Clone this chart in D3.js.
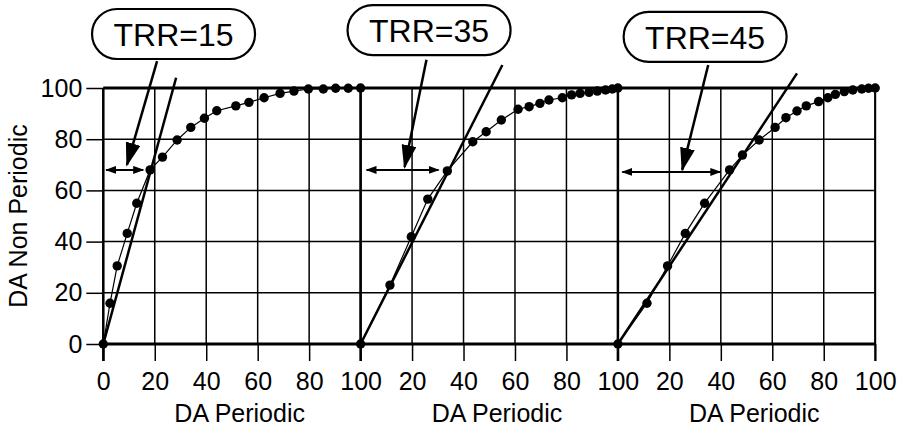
<!DOCTYPE html>
<html>
<head>
<meta charset="utf-8">
<script src="https://cdn.jsdelivr.net/npm/d3@7"></script>
<style>
  body { margin: 0; background: #fff; }
  svg { display: block; background: #fff; }
  text { font-family: "Liberation Sans", Arial, Helvetica, sans-serif; fill: #000; }
</style>
</head>
<body>
<svg id="chart"></svg>
<script>
// panel 1 (TRR=15)
const p1X = [0, 2.6, 5.4, 9.3, 13, 18.2, 23, 28.7, 34, 39.3, 44.1, 51.5, 56.6, 62.5, 68.7, 74.1, 79.7, 85.5, 90.3, 95.2, 100];
const p1Y = [0, 15.9, 30.5, 43.2, 55, 68, 73, 79.7, 84.6, 88.2, 91.1, 93, 94.4, 96.2, 97.9, 98.8, 99.6, 99.6, 99.9, 99.9, 100];
// panel 2 (TRR=35)
const p2X = [0, 11.4, 19.7, 26.1, 33.7, 43.6, 48.8, 54.7, 61.2, 65.5, 69.7, 73.2, 78.4, 82, 85.3, 88.8, 92, 95.2, 97.8, 100];
const p2Y = [0, 23, 41.9, 56.6, 67.6, 79, 82.9, 87.5, 91.7, 92.7, 94, 95.3, 96.2, 97.3, 97.9, 98.3, 98.8, 99.2, 99.6, 100];
// panel 3 (TRR=45)
const p3X = [0, 11.3, 19.3, 26.2, 33.7, 43.4, 48.4, 54.9, 61.1, 65.3, 69.6, 73.2, 78, 81.6, 84.5, 88, 91.3, 94.8, 97.4, 100];
const p3Y = [0, 15.9, 30.5, 43.2, 55, 68, 73.8, 79.7, 84.6, 88.4, 91, 93, 94.7, 96.2, 97.5, 98.6, 99.2, 99.6, 99.9, 100];

const trrLabels = ['TRR=15', 'TRR=35', 'TRR=45'];
// straight line from origin to this end point
const tangentEnd = [[28.3, 104], [55.1, 109], [69.6, 105.7]];
// double arrow: from x, to x, at y
const spanArrow = [[1.1, 15.5, 68], [2.3, 30.3, 68], [1.7, 39.8, 67.2]];
// label box centre and leader arrow (data units)
const boxCentre = [[27.3, 121.1], [26.6, 122.6], [33.9, 120]];
const leaderFrom = [[20.9, 110.5], [25.6, 111], [35.1, 109]];
const leaderTip = [[9.2, 70], [17.1, 69.1], [25, 68]];

const xTicks = [0, 20, 40, 60, 80, 100];
const yTicks = [0, 20, 40, 60, 80, 100];

const panels = [[p1X, p1Y], [p2X, p2Y], [p3X, p3Y]];

const W = 905, H = 429;
const plotLeft = 103.3, panelW = 257.3, plotTop = 88, plotBottom = 344;
const tickLen = 17;

const svg = d3.select('#chart').attr('width', W).attr('height', H);

const defs = svg.append('defs');
defs.append('marker')
    .attr('id', 'small')
    .attr('viewBox', '0 0 11 8')
    .attr('refX', 10).attr('refY', 4)
    .attr('markerWidth', 11).attr('markerHeight', 8)
    .attr('markerUnits', 'userSpaceOnUse')
    .attr('orient', 'auto-start-reverse')
  .append('path').attr('d', 'M0,0L11,4L0,8Z').attr('fill', '#000');
defs.append('marker')
    .attr('id', 'big')
    .attr('viewBox', '0 0 24 15')
    .attr('refX', 22).attr('refY', 7.5)
    .attr('markerWidth', 24).attr('markerHeight', 15)
    .attr('markerUnits', 'userSpaceOnUse')
    .attr('orient', 'auto')
  .append('path').attr('d', 'M0,0L24,7.5L0,15Z').attr('fill', '#000');

const y = d3.scaleLinear().domain([0, 100]).range([plotBottom, plotTop]);

// y axis labels + ticks
const yAxis = d3.axisLeft(y).tickValues(yTicks).tickSize(tickLen).tickPadding(4);
const gy = svg.append('g').attr('transform', 'translate(' + plotLeft + ',0)').call(yAxis);
gy.select('.domain').remove();
gy.selectAll('line').attr('stroke-width', 1.5);
gy.attr('font-size', 25).attr('font-family', null);

svg.append('text')
    .attr('transform', 'translate(27,' + ((plotTop + plotBottom) / 2) + ') rotate(-90)')
    .attr('text-anchor', 'middle')
    .attr('font-size', 25)
    .text('DA Non Periodic');

panels.forEach((p, i) => {
    const x = d3.scaleLinear().domain([0, 100]).range([plotLeft + i * panelW, plotLeft + (i + 1) * panelW]);
    const g = svg.append('g');

    // grid
    g.selectAll('.vgrid').data(xTicks).enter().append('line')
        .attr('x1', d => x(d)).attr('x2', d => x(d))
        .attr('y1', plotTop).attr('y2', plotBottom)
        .attr('stroke', '#000').attr('stroke-width', 1.5);
    g.selectAll('.hgrid').data(yTicks).enter().append('line')
        .attr('x1', x(0)).attr('x2', x(100))
        .attr('y1', d => y(d)).attr('y2', d => y(d))
        .attr('stroke', '#000').attr('stroke-width', 1.5);

    // x axis
    const xAxis = d3.axisBottom(x)
        .tickValues(i === 0 ? xTicks : xTicks.slice(1))
        .tickSize(tickLen).tickPadding(11);
    const gx = g.append('g').attr('transform', 'translate(0,' + plotBottom + ')').call(xAxis);
    gx.select('.domain').remove();
    gx.selectAll('line').attr('stroke-width', 1.5);
    gx.attr('font-size', 25).attr('font-family', null);

    g.append('text')
        .attr('x', x(53)).attr('y', 422)
        .attr('text-anchor', 'middle')
        .attr('font-size', 25)
        .text('DA Periodic');

    // frame
    g.append('line').attr('x1', x(0)).attr('x2', x(100)).attr('y1', y(100)).attr('y2', y(100))
        .attr('stroke', '#000').attr('stroke-width', 3);
    g.append('line').attr('x1', x(0)).attr('x2', x(100)).attr('y1', y(0)).attr('y2', y(0))
        .attr('stroke', '#000').attr('stroke-width', 3);
    g.append('line').attr('x1', x(0)).attr('x2', x(0)).attr('y1', plotTop).attr('y2', plotBottom + tickLen)
        .attr('stroke', '#000').attr('stroke-width', 2.5);
    if (i === 2) {
        g.append('line').attr('x1', x(100)).attr('x2', x(100)).attr('y1', plotTop).attr('y2', plotBottom + tickLen)
            .attr('stroke', '#000').attr('stroke-width', 2);
    }

    // straight line
    const te = tangentEnd[i];
    g.append('line')
        .attr('x1', x(0)).attr('y1', y(0))
        .attr('x2', x(te[0])).attr('y2', y(te[1]))
        .attr('stroke', '#000').attr('stroke-width', 2.5);

    // curve through points
    const pts = p[0].map((v, k) => [v, p[1][k]]);
    g.append('path')
        .datum(pts)
        .attr('fill', 'none')
        .attr('stroke', '#000')
        .attr('stroke-width', 1.2)
        .attr('d', d3.line().x(d => x(d[0])).y(d => y(d[1])));
    g.selectAll('.dot').data(pts).enter().append('circle')
        .attr('cx', d => x(d[0])).attr('cy', d => y(d[1]))
        .attr('r', 4.7).attr('fill', '#000');

    // double-headed span arrow
    const sa = spanArrow[i];
    g.append('line')
        .attr('x1', x(sa[0])).attr('x2', x(sa[1]))
        .attr('y1', y(sa[2])).attr('y2', y(sa[2]))
        .attr('stroke', '#000').attr('stroke-width', 2)
        .attr('marker-start', 'url(#small)')
        .attr('marker-end', 'url(#small)');

    // label box + leader arrow
    const bc = boxCentre[i];
    g.append('line')
        .attr('x1', x(leaderFrom[i][0])).attr('y1', y(leaderFrom[i][1]))
        .attr('x2', x(leaderTip[i][0])).attr('y2', y(leaderTip[i][1]))
        .attr('stroke', '#000').attr('stroke-width', 2.5)
        .attr('marker-end', 'url(#big)');
    g.append('rect')
        .attr('x', x(bc[0]) - 81.5).attr('y', y(bc[1]) - 25)
        .attr('width', 163).attr('height', 50)
        .attr('rx', 25).attr('ry', 25)
        .attr('fill', '#fff').attr('stroke', '#000').attr('stroke-width', 2.2);
    g.append('text')
        .attr('x', x(bc[0])).attr('y', y(bc[1]) + 12)
        .attr('text-anchor', 'middle')
        .attr('font-size', 32)
        .text(trrLabels[i]);
});
</script>
</body>
</html>
